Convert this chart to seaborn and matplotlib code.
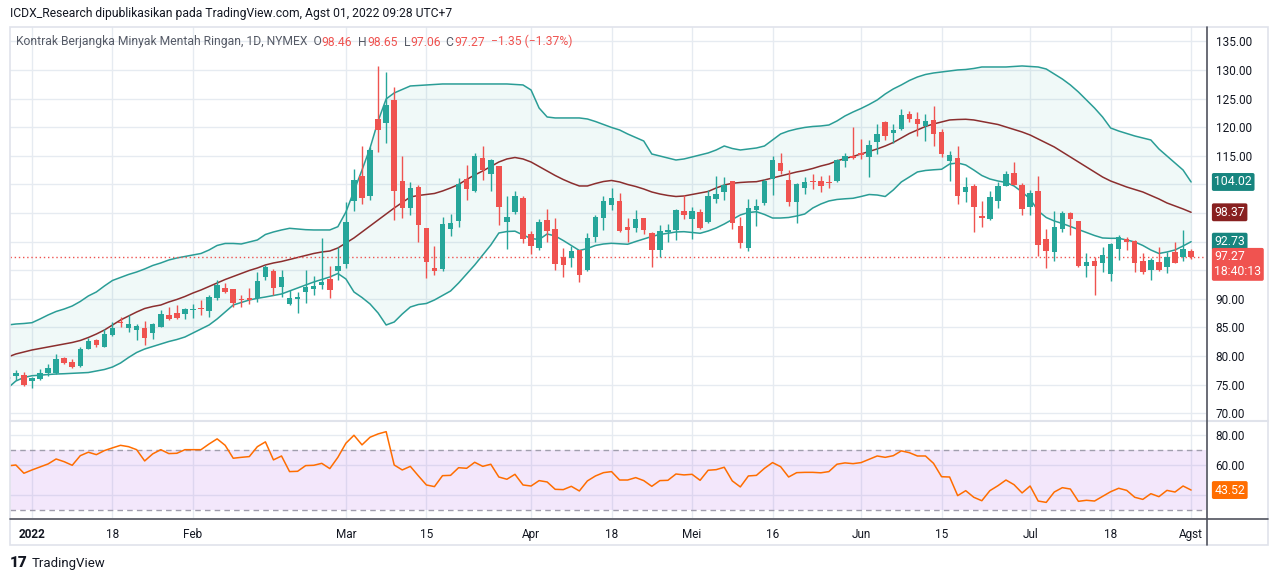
import numpy as np
import pandas as pd
import matplotlib
matplotlib.use('Agg')
import matplotlib.pyplot as plt
import seaborn as sns
from matplotlib.patches import Rectangle
from matplotlib.lines import Line2D

# trading days shown (NYMEX holidays skipped)
holidays = ['2022-01-17', '2022-02-21', '2022-04-15', '2022-05-30', '2022-06-20', '2022-07-04']
dates = pd.bdate_range('2021-12-29', '2022-08-01')
dates = dates[~dates.isin(pd.to_datetime(holidays))]

opens = [76.0, 76.6, 76.7, 75.7, 76.05, 77.0, 77.1, 79.7, 79.0, 78.3,
         81.3, 82.8, 81.65, 83.75, 86.0, 84.95, 84.55, 84.9, 84.1, 85.15,
         87.2, 87.5, 87.4, 88.1, 88.4, 87.9, 90.2, 91.9, 91.7, 90.0,
         90.1, 90.1, 93.9, 94.9, 92.1, 89.1, 90.05, 91.25, 91.7, 92.4,
         93.5, 94.9, 96.15, 107.2, 111.5, 107.95, 121.5, 120.7, 124.8, 110.6,
         105.95, 109.55, 102.4, 95.4, 95.3, 102.3, 103.7, 111.0, 108.9, 114.65,
         111.75, 113.15, 103.5, 105.2, 107.6, 101.35, 98.95, 103.8, 102.2, 97.3,
         97.2, 98.5, 95.1, 100.85, 104.2, 106.45, 107.1, 102.5, 102.4, 104.15,
         101.45, 98.55, 101.75, 102.05, 105.35, 103.95, 105.25, 103.45, 107.45, 108.75,
         110.6, 102.75, 98.95, 105.6, 106.7, 111.0, 113.8, 110.85, 106.95, 109.3,
         110.55, 110.6, 110.45, 110.6, 114.05, 115.05, 115.55, 114.75, 117.4, 120.85,
         119.0, 119.65, 122.4, 121.5, 120.2, 121.2, 119.1, 114.05, 114.65, 108.75,
         109.8, 104.5, 104.0, 107.2, 109.75, 111.95, 109.9, 106.0, 108.85, 100.45,
         98.25, 102.2, 104.95, 103.6, 95.8, 96.6, 96.35, 94.3, 98.7, 100.45,
         100.1, 96.6, 95.05, 96.4, 95.65, 98.15, 97.25, 98.46]
highs = [76.9, 77.6, 77.2, 76.4, 77.75, 78.6, 80.4, 79.9, 79.45, 81.65,
         83.2, 83.05, 84.7, 86.0, 86.8, 87.1, 85.6, 86.2, 85.85, 88.05,
         88.6, 88.9, 88.4, 89.1, 89.8, 90.6, 93.3, 92.7, 91.7, 90.7,
         91.9, 94.65, 95.9, 95.2, 95.05, 91.55, 91.15, 95.05, 93.95, 100.6,
         95.75, 99.1, 107.0, 112.7, 116.7, 116.5, 130.7, 129.6, 127.05, 114.95,
         110.4, 109.9, 102.4, 99.25, 104.25, 104.85, 111.2, 113.45, 115.45, 116.65,
         114.45, 113.15, 108.0, 108.8, 108.0, 101.9, 103.9, 105.7, 104.15, 98.85,
         99.25, 98.5, 101.45, 104.75, 107.9, 109.4, 108.45, 104.1, 105.5, 104.15,
         101.7, 102.9, 103.1, 105.7, 108.15, 106.1, 105.65, 109.0, 111.45, 111.35,
         110.6, 104.25, 107.4, 107.4, 110.9, 114.9, 115.55, 112.45, 110.3, 111.35,
         111.8, 111.4, 111.7, 114.5, 115.55, 120.0, 117.9, 117.85, 120.5, 121.05,
         120.5, 123.25, 122.85, 122.75, 122.25, 123.8, 119.75, 115.8, 116.65, 111.35,
         110.0, 107.15, 108.8, 110.45, 112.35, 113.98, 110.2, 109.0, 111.5, 102.2,
         105.35, 105.35, 105.25, 103.6, 97.95, 97.25, 99.0, 99.8, 101.2, 100.75,
         100.3, 97.95, 97.1, 99.0, 98.25, 100.0, 102.05, 98.65]
lows = [75.6, 75.8, 74.8, 74.5, 75.8, 76.5, 76.9, 78.6, 77.9, 78.15,
        81.2, 81.55, 81.6, 83.5, 85.15, 84.3, 82.8, 81.95, 83.0, 85.15,
        86.3, 86.55, 86.55, 86.65, 87.2, 86.9, 89.8, 91.0, 88.6, 88.65,
        89.1, 89.4, 93.3, 90.7, 90.3, 88.9, 87.6, 89.2, 90.7, 91.7,
        90.1, 93.3, 95.35, 105.4, 106.6, 107.35, 115.7, 117.2, 103.8, 104.1,
        104.7, 100.0, 93.6, 94.2, 94.95, 101.0, 102.6, 107.3, 108.6, 110.7,
        108.9, 103.0, 98.65, 104.8, 99.8, 97.85, 98.55, 100.0, 95.05, 93.9,
        95.5, 93.0, 94.9, 100.0, 102.05, 105.6, 101.65, 100.0, 101.75, 101.3,
        95.5, 97.25, 100.0, 100.3, 103.95, 100.45, 102.2, 103.3, 106.8, 107.3,
        102.2, 98.95, 98.4, 102.75, 106.5, 108.1, 111.85, 106.2, 103.3, 108.25,
        109.2, 108.6, 109.35, 110.45, 113.05, 114.5, 114.5, 111.3, 115.35, 117.7,
        117.3, 119.45, 120.9, 118.45, 117.6, 116.7, 114.8, 110.6, 106.65, 106.95,
        101.75, 102.5, 103.8, 105.9, 109.75, 109.9, 104.6, 104.7, 97.5, 95.35,
        96.7, 101.75, 101.15, 95.5, 93.9, 90.7, 94.75, 93.1, 96.8, 98.55,
        94.75, 94.35, 93.3, 94.95, 94.5, 96.2, 96.6, 97.06]
closes = [76.4, 77.0, 75.0, 76.2, 77.1, 78.0, 79.5, 78.85, 78.15, 81.25,
          82.6, 81.95, 83.9, 84.9, 85.85, 85.55, 85.2, 83.2, 85.6, 87.35,
          86.45, 86.65, 88.25, 88.25, 88.25, 90.3, 92.4, 91.25, 89.35, 89.75,
          89.85, 93.1, 95.6, 91.95, 93.8, 90.1, 90.3, 92.1, 92.25, 92.95,
          91.55, 95.75, 103.45, 110.8, 107.7, 116.0, 119.5, 123.95, 108.8, 105.95,
          109.4, 102.9, 96.45, 94.95, 103.1, 103.3, 110.1, 109.2, 115.0, 112.45,
          114.2, 106.0, 104.25, 107.95, 100.4, 99.3, 103.45, 101.9, 96.1, 95.95,
          98.4, 94.25, 100.6, 104.25, 107.1, 107.6, 101.9, 102.05, 103.95, 102.05,
          98.55, 101.85, 102.1, 105.6, 104.65, 105.35, 102.35, 107.95, 108.3, 109.9,
          103.2, 99.8, 105.9, 106.25, 110.65, 114.2, 112.3, 106.95, 110.05, 110.4,
          110.35, 109.75, 110.3, 114.2, 115.05, 114.6, 115.2, 116.9, 118.85, 118.45,
          119.45, 122.2, 121.5, 120.5, 121.05, 118.8, 115.35, 115.2, 107.95, 109.55,
          106.15, 104.2, 107.8, 109.75, 111.9, 109.9, 105.65, 108.55, 99.4, 98.45,
          102.5, 104.95, 103.95, 95.75, 96.4, 95.8, 97.7, 99.6, 100.9, 99.9,
          96.35, 94.75, 96.8, 95.05, 97.4, 96.35, 98.7, 97.27]

bb_upper = [85.44, 85.61, 85.70, 85.84, 86.49, 87.19, 87.80, 88.23, 88.76, 89.55,
            90.51, 91.21, 92.26, 93.22, 93.74, 94.27, 94.70, 95.23, 95.84, 96.28,
            96.80, 97.15, 97.41, 97.67, 97.94, 98.55, 99.34, 99.69, 99.69, 99.60,
            99.95, 100.30, 101.26, 101.70, 102.05, 102.34, 102.22, 102.10, 102.05, 102.05,
            102.05, 102.62, 105.19, 108.86, 112.53, 116.38, 121.10, 124.95, 126.00, 126.61,
            127.22, 127.31, 127.40, 127.48, 127.57, 127.57, 127.57, 127.57, 127.57, 127.57,
            127.57, 127.57, 127.57, 127.48, 127.40, 126.52, 123.37, 121.80, 121.63, 121.63,
            121.63, 121.63, 121.45, 121.01, 120.49, 119.97, 119.53, 118.83, 118.22, 117.60,
            115.33, 114.98, 114.63, 114.28, 114.46, 114.81, 115.16, 115.51, 116.03, 116.73,
            116.29, 116.03, 116.21, 116.38, 116.73, 117.78, 118.83, 119.35, 119.70, 119.97,
            120.14, 120.23, 120.40, 121.10, 121.98, 122.67, 123.29, 123.99, 124.77, 125.82,
            126.70, 127.40, 128.18, 128.79, 129.23, 129.49, 129.67, 129.84, 130.02, 130.10,
            130.28, 130.54, 130.54, 130.54, 130.54, 130.63, 130.72, 130.63, 130.54, 130.19,
            129.32, 128.44, 127.40, 126.17, 124.77, 123.37, 121.80, 119.88, 119.35, 118.92,
            118.48, 118.13, 117.78, 116.21, 114.98, 113.76, 112.53, 110.44]
bb_basis = [79.84, 80.37, 80.72, 81.07, 81.33, 81.59, 81.85, 82.12, 82.38, 82.73,
            83.25, 83.86, 84.56, 85.44, 86.31, 87.01, 87.71, 88.32, 88.67, 88.93,
            89.46, 89.90, 90.42, 91.03, 91.56, 92.17, 92.78, 93.39, 93.92, 94.44,
            94.97, 95.40, 95.93, 96.28, 96.54, 96.89, 97.24, 97.59, 97.94, 98.20,
            98.37, 98.90, 99.77, 100.65, 101.70, 102.74, 103.79, 104.84, 105.89, 106.85,
            107.81, 108.08, 108.25, 108.43, 108.86, 109.39, 110.00, 110.87, 111.66, 112.36,
            113.15, 113.93, 114.46, 114.72, 114.46, 113.93, 113.15, 112.36, 111.57, 110.87,
            110.26, 109.74, 109.74, 110.17, 110.52, 110.70, 110.44, 110.00, 109.65, 109.21,
            108.69, 108.34, 108.08, 107.90, 107.99, 108.25, 108.51, 108.78, 109.39, 109.91,
            110.21, 110.35, 110.44, 110.49, 110.79, 111.14, 111.49, 111.84, 112.19, 112.45,
            112.80, 113.23, 113.58, 114.11, 114.55, 114.90, 115.33, 115.77, 116.21, 116.73,
            117.34, 118.13, 118.92, 119.53, 120.14, 120.58, 120.93, 121.28, 121.36, 121.40,
            121.28, 121.01, 120.75, 120.49, 120.05, 119.62, 119.18, 118.65, 117.95, 117.26,
            116.56, 115.68, 114.81, 113.93, 113.06, 112.19, 111.31, 110.61, 110.09, 109.56,
            109.13, 108.69, 108.08, 107.47, 106.77, 106.24, 105.72, 105.14]
bb_lower = [74.42, 75.65, 76.26, 76.57, 76.66, 76.78, 76.87, 76.92, 76.99, 77.06,
            77.13, 77.40, 77.66, 78.09, 78.79, 79.76, 80.63, 81.24, 81.68, 82.12,
            82.55, 82.90, 83.34, 84.04, 84.74, 85.44, 86.49, 87.71, 88.93, 89.37,
            89.81, 90.10, 90.33, 90.59, 90.86, 91.38, 91.91, 92.43, 92.95, 93.39,
            93.83, 94.44, 93.48, 91.21, 90.24, 89.11, 87.53, 85.44, 85.96, 87.36,
            88.58, 89.02, 89.20, 89.81, 90.59, 91.38, 92.78, 94.35, 95.93, 97.67,
            99.42, 101.52, 101.78, 101.84, 101.17, 100.56, 100.38, 101.35, 101.00, 100.21,
            99.34, 98.46, 98.81, 99.34, 99.60, 99.72, 99.63, 99.55, 100.03, 100.47,
            100.91, 101.26, 101.47, 101.70, 101.75, 101.61, 101.47, 101.87, 102.40, 103.09,
            103.88, 104.67, 105.10, 105.24, 104.76, 104.14, 104.14, 104.23, 104.49, 104.84,
            105.89, 106.59, 107.12, 107.38, 107.50, 107.59, 107.90, 108.25, 108.16, 107.90,
            109.04, 110.44, 111.31, 112.19, 112.45, 112.57, 112.66, 113.58, 113.76, 113.41,
            112.53, 111.57, 110.96, 110.61, 110.35, 109.74, 108.69, 107.47, 105.37, 104.23,
            103.62, 103.18, 102.66, 102.13, 101.61, 101.08, 100.65, 100.59, 100.59, 100.30,
            99.95, 99.34, 98.55, 97.94, 98.20, 98.55, 99.25, 100.00]
bb_labels = ['104.02', '98.37', '92.73']

rsi = [59.6, 60.2, 54.7, 56.9, 58.9, 60.9, 64.2, 62.4, 60.0, 66.4,
       68.7, 67.1, 69.8, 71.6, 73.3, 72.4, 70.4, 62.9, 67.6, 70.4,
       67.8, 68.0, 70.4, 70.4, 70.4, 74.2, 77.6, 73.3, 64.7, 65.3,
       65.8, 72.4, 75.6, 63.6, 66.2, 55.8, 56.0, 59.8, 60.0, 61.3,
       57.8, 65.3, 74.7, 80.0, 73.6, 78.7, 80.9, 82.4, 60.2, 56.9,
       59.3, 53.0, 46.9, 45.8, 53.1, 53.3, 58.4, 58.0, 62.0, 59.3,
       60.7, 52.2, 50.7, 54.0, 46.9, 46.2, 49.8, 48.9, 44.0, 43.8,
       46.0, 42.9, 49.6, 52.9, 55.1, 55.8, 50.2, 50.2, 51.8, 49.8,
       46.0, 49.8, 50.0, 54.2, 53.6, 54.0, 50.0, 56.7, 57.1, 58.7,
       49.6, 45.6, 52.9, 53.3, 58.0, 61.8, 59.1, 52.2, 55.1, 55.3,
       55.3, 55.0, 55.8, 60.7, 61.6, 61.1, 61.8, 64.0, 66.2, 65.3,
       66.4, 69.6, 68.4, 66.2, 66.2, 61.3, 52.4, 52.2, 39.8, 43.1,
       38.7, 36.4, 43.1, 46.4, 50.2, 47.1, 41.6, 46.2, 36.2, 35.3,
       42.2, 45.1, 44.2, 36.0, 36.7, 36.2, 39.3, 42.4, 44.7, 43.3,
       38.7, 37.3, 41.1, 39.1, 43.3, 42.2, 46.2, 43.52]

tick_dates = ['2022-01-03', '2022-01-18', '2022-02-01', '2022-03-01', '2022-03-15', '2022-04-01',
              '2022-04-18', '2022-05-02', '2022-05-16', '2022-06-01', '2022-06-15', '2022-07-01',
              '2022-07-18', '2022-08-01']
tick_labels = ['2022', '18', 'Feb', 'Mar', '15', 'Apr', '18', 'Mei', '16', 'Jun', '15', 'Jul', '18', 'Agst']

UP, DOWN = '#26a69a', '#ef5350'
BAND, BASIS = '#2a9d96', '#8b2e2e'

sns.set_theme(style='white')
plt.rcParams['font.family'] = ['Roboto', 'DejaVu Sans']

W, H = 1280, 581
fig = plt.figure(figsize=(12.8, 5.81), dpi=100)
fig.patch.set_facecolor('white')

def fx(px):
    return px / W

def fy(py):
    return 1 - py / H

ax = fig.add_axes([fx(10), fy(420), fx(1196), 393 / H])
ax_rsi = fig.add_axes([fx(10), fy(518), fx(1196), 97 / H], sharex=ax)

x = np.arange(len(dates))
o = np.array(opens); c = np.array(closes)
hi = np.array(highs); lo = np.array(lows)
up = c >= o
cols = np.where(up, UP, DOWN)

# bollinger bands
ax.fill_between(x, bb_lower, bb_upper, color='#26a69a', alpha=0.065, lw=0, zorder=1)
sns.lineplot(x=x, y=bb_upper, ax=ax, color=BAND, lw=1.1, zorder=2)
sns.lineplot(x=x, y=bb_lower, ax=ax, color=BAND, lw=1.1, zorder=2)
sns.lineplot(x=x, y=bb_basis, ax=ax, color=BASIS, lw=1.1, zorder=2)

# candles
body_lo = np.minimum(o, c)
body_h = np.maximum(np.abs(c - o), 0.15)
ax.vlines(x, lo, hi, colors=cols, lw=1, zorder=3)
ax.bar(x, body_h, bottom=body_lo, width=0.68, color=cols, lw=0, zorder=4)

ax.axhline(closes[-1], color=DOWN, lw=1, ls=(0, (1, 2)), zorder=2)

ax.set_xlim(0.27, 148.85)
ax.set_ylim(68.83, 137.53)
ticks = np.arange(70, 136, 5)
hidden = {95, 100, 105, 110}   # covered by the price-scale badges
ax.set_yticks(ticks)
ax.set_yticklabels(['' if t in hidden else '%.2f' % t for t in ticks])
ax.yaxis.tick_right()
ax.tick_params(axis='y', length=0, pad=7, labelsize=8.5, labelcolor='#131722')
ax.tick_params(axis='x', length=0, labelbottom=False)
ax.grid(True, color='#e6ebf1', lw=1)
ax.set_axisbelow(True)
for s in ax.spines.values():
    s.set_visible(False)

pos = [dates.get_loc(pd.Timestamp(d)) for d in tick_dates]
ax_rsi.set_xticks(pos)
ax_rsi.set_xticklabels(tick_labels)
ax_rsi.get_xticklabels()[0].set_fontweight('bold')
ax_rsi.tick_params(axis='x', length=0, pad=7, labelsize=8.5, labelcolor='#131722')

# RSI pane
ax_rsi.axhspan(30, 70, color='#b05ee8', alpha=0.15, lw=0, zorder=1)
ax_rsi.axhline(70, color='#a09ead', lw=1, ls=(0, (4, 3)), zorder=2)
ax_rsi.axhline(30, color='#a09ead', lw=1, ls=(0, (4, 3)), zorder=2)
sns.lineplot(x=x, y=rsi, ax=ax_rsi, color='#ff6d00', lw=1.1, zorder=3)
ax_rsi.set_ylim(24.9, 89.5)
ax_rsi.set_yticks([40, 60, 80])
ax_rsi.set_yticklabels(['', '60.00', '80.00'])
ax_rsi.yaxis.tick_right()
ax_rsi.tick_params(axis='y', length=0, pad=7, labelsize=8.5, labelcolor='#131722')
ax_rsi.grid(True, color='#e6ebf1', lw=1)
ax_rsi.set_axisbelow(True)
ax_rsi.set_xlabel('')
ax_rsi.set_ylabel('')
ax.set_xlabel('')
ax.set_ylabel('')
for s in ax_rsi.spines.values():
    s.set_visible(False)

# price scale badges
def badge(a, val, txt, color, va='center', dy=0):
    a.annotate(txt, xy=(1, val), xycoords=('axes fraction', 'data'), xytext=(6, dy),
               textcoords='offset points', ha='left', va=va, fontsize=8.8, color='white',
               linespacing=1.2, annotation_clip=False, zorder=20,
               bbox=dict(boxstyle='round,pad=0.2,rounding_size=0.15', fc=color, ec='none'))

badge(ax, bb_upper[-1], bb_labels[0], '#17857f')
badge(ax, bb_basis[-1], bb_labels[1], '#882020')
badge(ax, bb_lower[-1], bb_labels[2], '#17857f')
badge(ax, closes[-1], '%.2f\n18:40:13' % closes[-1], '#f05350', va='top', dy=5)
badge(ax_rsi, rsi[-1], '%.2f' % rsi[-1], '#ff6d00')

# frame lines
fig.add_artist(Rectangle((fx(10), fy(545)), fx(1258), (545 - 27) / H, transform=fig.transFigure,
                         fill=False, ec='#e0e3eb', lw=1.2))
fig.add_artist(Line2D([fx(10), fx(1268)], [fy(420.5), fy(420.5)], transform=fig.transFigure,
                      color='#e0e3eb', lw=1.5))
fig.add_artist(Line2D([fx(10), fx(1268)], [fy(518.5), fy(518.5)], transform=fig.transFigure,
                      color='#50535e', lw=1.2))
fig.add_artist(Line2D([fx(1206.5), fx(1206.5)], [fy(27), fy(545)], transform=fig.transFigure,
                      color='#50535e', lw=1.2))

# header + legend
fig.text(fx(10), fy(14), 'ICDX_Research dipublikasikan pada TradingView.com, Agst 01, 2022 09:28 UTC+7',
         fontsize=8.7, color='#131722', va='center', ha='left')
pieces = [('Kontrak Berjangka Minyak Mentah Ringan, 1D, NYMEX  O', '#555a66'),
          ('%.2f' % opens[-1], DOWN), ('  H', '#555a66'), ('%.2f' % highs[-1], DOWN),
          ('  L', '#555a66'), ('%.2f' % lows[-1], DOWN), ('  C', '#555a66'),
          ('%.2f' % closes[-1], DOWN), ('  \u22121.35 (\u22121.37%)', DOWN)]
prev = fig.text(fx(16), fy(42), pieces[0][0], fontsize=8.7, color=pieces[0][1], va='center', ha='left')
for txt, col in pieces[1:]:
    prev = ax.annotate(txt, xy=(1, 0), xycoords=prev, va='bottom', ha='left',
                       fontsize=8.7, color=col, annotation_clip=False)

# logo
fig.text(fx(10), fy(563), '17', fontsize=11, fontweight='heavy', color='#131722', va='center', ha='left')
fig.text(fx(32), fy(563), 'TradingView', fontsize=9.5, color='#131722', va='center', ha='left')

fig.savefig('out.png', dpi=100, facecolor='white')
